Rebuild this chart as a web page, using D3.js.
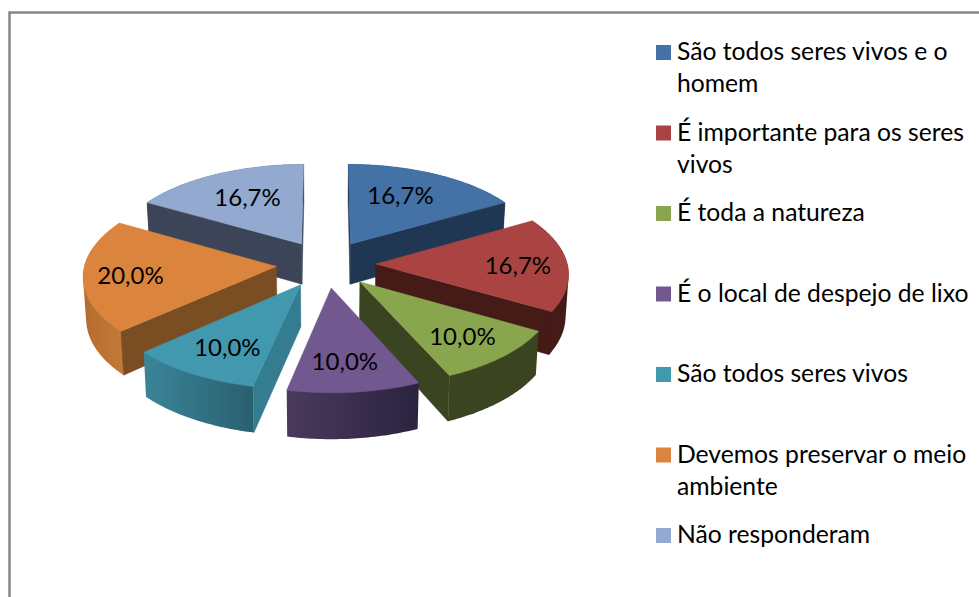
<!DOCTYPE html>
<html>
<head>
<meta charset="utf-8">
<script src="https://cdn.jsdelivr.net/npm/d3@7"></script>
<style>
html,body{margin:0;padding:0;background:#fff;overflow:hidden}
svg{display:block}
text{font-family:Lato,"Open Sans",sans-serif;fill:#000}
</style>
</head>
<body>
<svg id="chart" width="979" height="597"></svg>
<script>
const categories = [
  ["São todos seres vivos e o", "homem"],
  ["É importante para os seres", "vivos"],
  ["É toda a natureza"],
  ["É o local de despejo de lixo"],
  ["São todos seres vivos"],
  ["Devemos preservar o meio", "ambiente"],
  ["Não responderam"]
];
const seriesValues = [16.7, 16.7, 10.0, 10.0, 10.0, 20.0, 16.7];
const topColors = ["#4471a6", "#a94442", "#89a54e", "#71588f", "#4198af", "#db843d", "#93a9cf"];
const wallColors = ["#203754", "#451b18", "#3a4420", "#3a2d4c", "#347d90", "#7b4d22", "#3c4558"];
const arcLeft = ["#203754", "#451b18", "#3a4420", "#4a3a5c", "#3b8599", "#b56c2f", "#3c4558"];
const arcRight = ["#203754", "#451b18", "#3a4420", "#2b2340", "#295f6e", "#c27a38", "#3c4558"];
const labelNudgeX = [-11, 8, 5, -2, 1, -11, 7];
const labelNudgeY = [1, 1, 3, 3, 2, 2, 3];
const drawOrder = [6, 0, 5, 1, 4, 2, 3];

const W = 979, H = 597;
const svg = d3.select("#chart");
const defs = svg.append("defs");

// frame
svg.append("rect").attr("x", 9.5).attr("y", 12.5).attr("width", W + 20).attr("height", H + 20)
  .attr("fill", "#fff").attr("stroke", "#868686").attr("stroke-width", 2.5);

// projection of the tilted, exploded pie
const cx = 326, cy = 264, R = 191.5, tilt = 90.5, persp = 0.092, explode = 0.26, depth = 41, taper = 0.9875;
const pieGen = d3.pie().sort(null).value(d => d).startAngle(0).endAngle(2 * Math.PI);
const arcs = pieGen(seriesValues);

function project(a, r, mid, bottom) {
  const X = explode * Math.sin(mid) + r * Math.sin(a);
  const Y = -explode * Math.cos(mid) - r * Math.cos(a);
  const s = 1 / (1 - persp * Y);
  const u = R * X * s * (bottom ? taper : 1);
  const v = tilt * Y * s + (bottom ? depth * s : 0);
  return [cx + u, cy + v];
}
const path = d3.line().curve(d3.curveLinear);
function sampled(a0, a1) {
  const n = Math.max(2, Math.ceil(Math.abs(a1 - a0) * 60));
  return d3.range(n + 1).map(i => a0 + (a1 - a0) * i / n);
}
const camY = 1 / persp;

drawOrder.forEach(i => {
  const d = arcs[i];
  const a0 = d.startAngle, a1 = d.endAngle, mid = (a0 + a1) / 2;
  const g = svg.append("g");
  const ax = explode * Math.sin(mid), ay = -explode * Math.cos(mid);
  const facing = (ang) => Math.sin(ang) * (0 - ax) + (-Math.cos(ang)) * (camY - ay) > 0;

  // outer wall: hull of the top and bottom arcs; its hidden part stays covered by the top face
  const as = sampled(a0, a1);
  const front = as.map(a => project(a, 1, mid, false));
  const back = as.map(a => project(a, 1, mid, true));
  const hull = d3.polygonHull(front.concat(back));
  const xs = d3.extent(hull, p => p[0]);
  const id = "wall" + i;
  const lg = defs.append("linearGradient").attr("id", id).attr("gradientUnits", "userSpaceOnUse")
    .attr("x1", xs[0]).attr("x2", xs[1]).attr("y1", 0).attr("y2", 0);
  lg.append("stop").attr("offset", 0).attr("stop-color", arcLeft[i]);
  lg.append("stop").attr("offset", 1).attr("stop-color", arcRight[i]);
  g.append("path").attr("d", path(hull) + "Z").attr("fill", `url(#${id})`).attr("stroke", "none");

  const radial = (a) => {
    const pts = [project(a, 0, mid, false), project(a, 1, mid, false), project(a, 1, mid, true), project(a, 0, mid, true)];
    g.append("path").attr("d", path(pts) + "Z").attr("fill", wallColors[i]).attr("stroke", wallColors[i]).attr("stroke-width", 0.5);
  };
  if (facing(a0 - Math.PI / 2)) radial(a0);
  if (facing(a1 + Math.PI / 2)) radial(a1);

  const top = [project(a0, 0, mid, false)].concat(sampled(a0, a1).map(a => project(a, 1, mid, false)));
  g.append("path").attr("d", path(top) + "Z").attr("fill", topColors[i]).attr("stroke", topColors[i]).attr("stroke-width", 0.5);
});

// data labels
const fmt = d3.formatLocale({decimal: ",", thousands: ".", grouping: [3], currency: ["", ""]}).format(".1f");
const labelR = 0.7;
arcs.forEach((d, i) => {
  const mid = (d.startAngle + d.endAngle) / 2;
  const p = project(mid, labelR, mid, false);
  svg.append("text").attr("x", p[0] + labelNudgeX[i]).attr("y", p[1] + labelNudgeY[i]).attr("text-anchor", "middle")
    .attr("dy", "0.35em").attr("font-size", 24).text(fmt(d.value) + "%");
});

// legend
const legendY = d3.scaleLinear().domain([0, categories.length - 1]).range([60, 543]);
const lineGap = 32;
categories.forEach((lines, i) => {
  const y = legendY(i);
  svg.append("rect").attr("x", 656).attr("y", y - 15).attr("width", 15).attr("height", 15).attr("fill", topColors[i]);
  lines.forEach((t, j) => {
    svg.append("text").attr("x", 677).attr("y", y + j * lineGap).attr("font-size", 24.7).text(t);
  });
});
</script>
</body>
</html>
